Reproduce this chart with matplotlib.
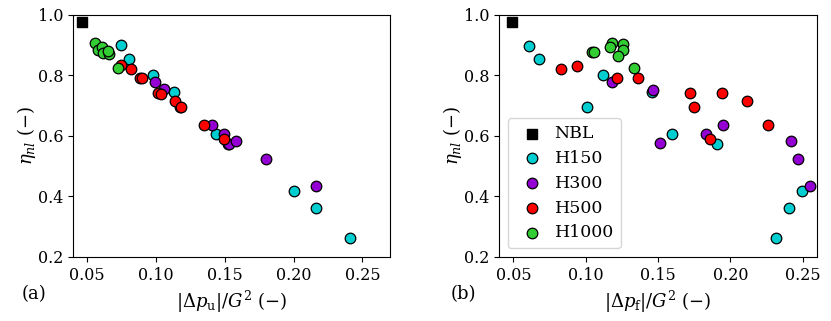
import matplotlib
matplotlib.use("Agg")
import matplotlib.pyplot as plt

plt.rcParams['font.family'] = 'DejaVu Serif'
plt.rcParams['mathtext.fontset'] = 'dejavuserif'

# (a) upstream pressure drop
nbl_a_x = [0.0464]
nbl_a_y = [0.978]
h150_a_x = [0.0752, 0.0808, 0.0982, 0.1130, 0.1435, 0.2001, 0.2166, 0.2413, 0.1175, 0.1525]
h150_a_y = [0.900, 0.854, 0.801, 0.747, 0.608, 0.418, 0.362, 0.264, 0.697, 0.574]
h300_a_x = [0.0992, 0.1064, 0.1406, 0.1493, 0.1529, 0.1582, 0.1798, 0.2166]
h300_a_y = [0.780, 0.754, 0.636, 0.606, 0.573, 0.582, 0.524, 0.436]
h500_a_x = [0.0747, 0.0820, 0.0887, 0.0902, 0.1016, 0.1040, 0.1142, 0.1183, 0.1352, 0.1498]
h500_a_y = [0.833, 0.820, 0.793, 0.793, 0.741, 0.740, 0.714, 0.695, 0.636, 0.591]
h1000_a_x = [0.0560, 0.0585, 0.0609, 0.0621, 0.0665, 0.0657, 0.0730]
h1000_a_y = [0.906, 0.884, 0.895, 0.875, 0.871, 0.881, 0.826]

# (b) frictional pressure drop
nbl_b_x = [0.0491]
nbl_b_y = [0.977]
h150_b_x = [0.0608, 0.0680, 0.1012, 0.1116, 0.1596, 0.1905, 0.2313, 0.2408, 0.2493, 0.1460]
h150_b_y = [0.898, 0.854, 0.697, 0.801, 0.608, 0.573, 0.264, 0.362, 0.418, 0.747]
h300_b_x = [0.1181, 0.1462, 0.1513, 0.1829, 0.1949, 0.2422, 0.2468, 0.2553]
h300_b_y = [0.779, 0.751, 0.576, 0.605, 0.637, 0.582, 0.523, 0.436]
h500_b_x = [0.0830, 0.0941, 0.1213, 0.1358, 0.1718, 0.1748, 0.1946, 0.2115, 0.2260, 0.1861]
h500_b_y = [0.820, 0.831, 0.793, 0.793, 0.741, 0.697, 0.741, 0.714, 0.637, 0.591]
h1000_b_x = [0.1043, 0.1054, 0.1180, 0.1169, 0.1257, 0.1261, 0.1220, 0.1335]
h1000_b_y = [0.877, 0.877, 0.908, 0.895, 0.904, 0.884, 0.865, 0.826]

labels = ['NBL', 'H150', 'H300', 'H500', 'H1000']
colors = ['black', 'darkturquoise', 'darkviolet', 'red', 'limegreen']

fig = plt.figure(figsize=(8.31, 3.21), dpi=100)
ax1 = fig.add_axes([0.0878, 0.1994, 0.3815, 0.754])
ax2 = fig.add_axes([0.6005, 0.1994, 0.3827, 0.754])

panels = [
    (ax1, [(nbl_a_x, nbl_a_y), (h150_a_x, h150_a_y), (h300_a_x, h300_a_y),
           (h500_a_x, h500_a_y), (h1000_a_x, h1000_a_y)],
     r'$|\Delta p_\mathrm{u}|/G^2$ (−)', (0.04, 0.27)),
    (ax2, [(nbl_b_x, nbl_b_y), (h150_b_x, h150_b_y), (h300_b_x, h300_b_y),
           (h500_b_x, h500_b_y), (h1000_b_x, h1000_b_y)],
     r'$|\Delta p_\mathrm{f}|/G^2$ (−)', (0.04, 0.26)),
]

for ax, series, xlabel, xlim in panels:
    for (x, y), lab, c in zip(series, labels, colors):
        if lab == 'NBL':
            ax.scatter(x, y, marker='s', s=58, color='black', label=lab, zorder=3)
        else:
            ax.scatter(x, y, s=58, color=c, edgecolors='black', linewidths=0.9,
                       label=lab, zorder=3)
    ax.set_xlim(xlim)
    ax.set_ylim(0.2, 1.0)
    ax.set_xticks([0.05, 0.10, 0.15, 0.20, 0.25])
    ax.set_yticks([0.2, 0.4, 0.6, 0.8, 1.0])
    ax.tick_params(labelsize=11.5)
    ax.set_xlabel(xlabel, fontsize=13)
    ax.set_ylabel(r'$\eta_{nl}$ (−)', fontsize=13, labelpad=0)

ax2.legend(loc='lower left', fontsize=12.5, handletextpad=0.3, borderpad=0.4,
           labelspacing=0.45, handlelength=2.0)

fig.text(0.026, 0.068, '(a)', fontsize=13)
fig.text(0.542, 0.068, '(b)', fontsize=13)

fig.savefig('out.png', dpi=100)
